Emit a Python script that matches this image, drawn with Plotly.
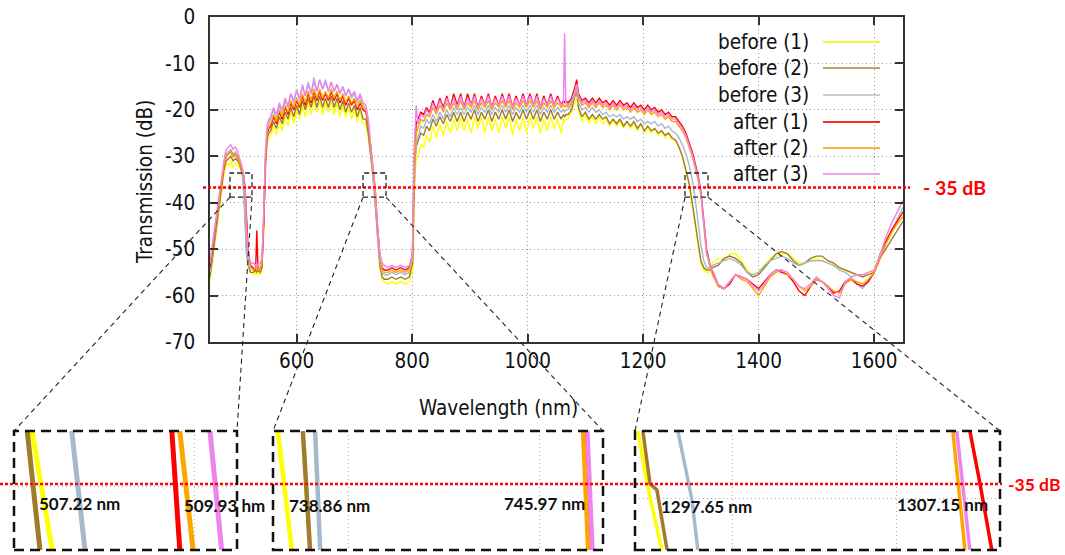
import plotly.graph_objects as go

W, H = 1065, 555

# ---------------- data ----------------
WL = [
    450, 455, 460, 465, 470, 474, 478, 482, 486, 490, 494, 498, 502, 505, 507, 509, 511, 513, 516, 520, 525, 529, 531, 533, 537, 540,
    543, 546, 549, 552, 555, 560, 565, 570, 575, 580, 585, 590, 595, 600, 605, 610, 615, 620, 625, 630, 635, 640, 645, 650,
    655, 660, 665, 670, 675, 680, 685, 690, 695, 700, 705, 710, 715, 720, 724, 728, 732, 736, 740, 744, 748, 752, 758, 765,
    772, 780, 788, 795, 799,
    801, 803, 805, 807, 810, 815, 820, 825,
    830, 836, 842, 848, 854, 860, 866, 872, 878, 884,
    890, 896, 902, 908, 914, 920, 926, 932, 938, 944,
    950, 956, 962, 968, 974, 980, 986, 992, 998, 1004,
    1010, 1016, 1022, 1028, 1034, 1040, 1046, 1052, 1058,
    1062, 1064, 1066, 1070, 1076, 1082, 1085, 1088,
    1094, 1100, 1106, 1112, 1118, 1124, 1130, 1136, 1142, 1148,
    1154, 1160, 1166, 1172, 1178, 1184, 1190, 1196, 1202, 1208,
    1214, 1220, 1226, 1232, 1238, 1244, 1250, 1256, 1262, 1268,
    1274, 1280, 1285, 1290, 1295, 1300, 1305, 1310, 1315,
    1320, 1330, 1340, 1350, 1360, 1370, 1380, 1390, 1400, 1410, 1420, 1430, 1440, 1450, 1460, 1470, 1480,
    1490, 1500, 1510, 1520, 1530, 1540, 1550, 1560, 1570, 1580, 1590, 1600, 1610, 1620, 1630, 1640, 1650,
]

BEFORE_1 = [
    -57, -52, -47, -42, -38, -34, -31.5, -32, -31, -32.5, -31.5, -32, -32.5, -33.5, -34.8, -37.5, -43, -49, -53, -55, -55.5, -55, -55.5, -55, -55.5, -54,
    -46, -33, -27, -26, -25.5, -23.5, -25.5, -22.5, -24.5, -21.5, -23.5, -20.5, -23, -20, -22, -19, -21.5, -18.5, -21, -18, -20.5, -18, -21, -18.5,
    -20.5, -18, -21, -18.5, -21.5, -19, -21.5, -19.5, -22, -20, -22.5, -20.5, -23, -23, -26, -30, -34, -40, -48, -54, -56.5, -57, -57.5, -57,
    -57.5, -57, -57.5, -57, -55,
    -55, -44, -34, -31, -30, -27.5, -28, -25.5,
    -27, -23.5, -26, -23, -25.5, -22.5, -25, -22, -24.5, -21.5,
    -24.5, -22, -25, -21.5, -24, -21.5, -25, -21.5, -24.5, -22,
    -25, -21.5, -24, -21.5, -25.5, -22, -24.5, -21.5, -25, -21.5,
    -24, -21.5, -25, -22, -24.5, -21.5, -24, -22, -25,
    -22, -22.5, -22, -22, -20.5, -18.5, -17.5, -20,
    -22.5, -21, -23, -21.5, -23, -21.5, -23, -22, -23.5, -22,
    -23.5, -22.5, -24, -22.5, -24, -23, -24.5, -23, -25, -23.5,
    -25, -24, -25.5, -24.5, -26, -25, -26.5, -26.5, -28, -30,
    -33, -36.5, -40.5, -45, -49.5, -53, -54.5, -55, -55,
    -53, -52, -52.5, -51, -51, -52.5, -54.5, -55.5, -55, -53.5, -52, -51.5, -51, -51, -52, -53, -53,
    -52.5, -52, -52.5, -53, -53.5, -54, -54.5, -55, -55.5, -55.5, -55, -54.5, -51, -48, -46, -44, -42,
]

BEFORE_2 = [
    -56, -51, -46, -41, -37, -33, -31, -30.5, -30, -31, -30.5, -31, -32, -33.5, -34.7, -38, -44, -50, -53.5, -55, -55, -54.5, -55, -54.5, -55, -54,
    -45, -32, -26, -25, -24.5, -22.5, -24, -21.5, -23, -20.5, -22, -19.5, -21.5, -19, -21, -18, -20, -17.5, -19.5, -17, -19.5, -17, -19.5, -17.5,
    -19.5, -17, -19.5, -17.5, -20, -18, -20.5, -18.5, -20.5, -19, -21.5, -19.5, -22, -22, -25, -29.5, -34, -40, -48, -53.5, -56, -56.5, -56.5, -56,
    -56.5, -56, -56.5, -56, -54,
    -53, -40, -31, -28, -27, -25, -25.5, -23.5,
    -24.5, -22, -23.5, -21.5, -23, -21, -22.5, -20.5, -22.5, -20.5,
    -22.5, -20.5, -22, -20, -22.5, -20.5, -22, -20, -22.5, -20.5,
    -22, -20, -22, -20, -22.5, -20.5, -22, -20, -22, -20,
    -22, -20, -22.5, -20.5, -22, -20, -22, -20.5, -22,
    -21, -21.5, -21, -21, -20, -17, -16, -19.5,
    -21.5, -20.5, -22, -21, -22, -21, -22, -21.5, -23, -22,
    -23, -22, -23.5, -22.5, -23.5, -22.5, -24, -23, -24.5, -23.5,
    -24.5, -24, -25, -24.5, -25.5, -25, -26, -26.5, -28, -30,
    -33, -36, -40, -44.5, -49, -52.5, -54, -54.5, -54.5,
    -54, -53.5, -52, -51.5, -52, -53, -55, -56, -55.5, -54, -52.5, -51, -50.5, -51, -52.5, -53.5, -53,
    -52, -51.5, -51.5, -52.5, -53, -54, -54.5, -55, -55.5, -56, -55.5, -55, -52, -50, -48, -46, -44,
]

BEFORE_3 = [
    -55, -50, -45, -40, -36, -32, -29.5, -29, -28.5, -29.5, -29, -30, -31.5, -33, -35, -39, -45, -51, -53.5, -54, -54.5, -54, -54.5, -54, -54, -53,
    -43, -30, -24, -23, -22, -20, -22, -19, -21, -18, -19.5, -16.5, -18.5, -15.5, -18, -14.5, -17, -14, -16.5, -13, -16, -13.5, -15.5, -13.5,
    -16, -14, -16, -14.5, -16.5, -15, -17, -15.5, -17.5, -16.5, -18.5, -17, -19, -20, -23, -28.5, -33.5, -39.5, -47, -52.5, -55, -55.5, -55.5, -55,
    -55.5, -55, -55.5, -55, -53,
    -52, -38, -30, -27, -26, -23.5, -24, -22,
    -23, -21, -22.5, -20.5, -22, -20, -21.5, -19.5, -21, -19.5,
    -21, -19.5, -20.5, -19, -21, -19.5, -20.5, -19, -21, -19.5,
    -20.5, -19, -20.5, -19, -21, -19.5, -20.5, -19, -20.5, -19,
    -20.5, -19, -21, -19.5, -20.5, -19, -20.5, -19.5, -20.5,
    -20, -20.5, -20, -20, -19, -16.5, -15.5, -18.5,
    -20, -19.5, -20.5, -19.5, -20.5, -20, -21, -20.5, -21.5, -21,
    -21.5, -21, -22, -21.5, -22, -21.5, -22.5, -22, -23, -22.5,
    -23, -22.5, -23.5, -23, -24, -23.5, -24.5, -25, -26, -27.5,
    -29.5, -32, -35, -39, -44, -49, -52.5, -54, -54,
    -53.5, -53, -52.5, -52, -52.5, -53.5, -55, -55.5, -55, -53.5, -52.5, -52, -51.5, -52, -53, -53.5, -53,
    -52.5, -52.5, -52.5, -53, -53.5, -54.5, -55, -56, -57.5, -58.5, -57, -55, -51, -48.5, -46, -43.5, -41,
]

AFTER_1 = [
    -54, -49, -44, -40, -36, -32, -30, -29.5, -29, -30, -29.5, -30.5, -31.5, -32.5, -33.5, -34.5, -37.5, -44, -50, -53.5, -54, -54.5, -46, -54, -54.5, -53,
    -44, -31, -25, -24, -23.5, -21.5, -23, -20.5, -22, -19.5, -21, -18.5, -20, -18, -19.5, -17, -19, -16.5, -18.5, -16, -18, -16, -18, -16.5,
    -18, -16, -18, -16.5, -18.5, -17, -19, -17.5, -19, -18, -20, -18.5, -20, -20.5, -23, -28, -32, -37, -45, -51, -54, -54.5, -54.5, -54,
    -54.5, -54, -54.5, -54, -52,
    -50, -34, -26, -23, -22, -20.5, -21, -19.5,
    -20.5, -18, -20, -17.5, -19.5, -17, -19.5, -16.5, -19, -16.5,
    -19.5, -16.5, -19, -16.5, -19.5, -17, -19, -16.5, -19.5, -17,
    -19, -16.5, -19, -16.5, -19.5, -17, -19, -16.5, -19, -16.5,
    -19, -16.5, -19.5, -17, -19, -16.5, -19, -17, -19,
    -18, -18.5, -18, -18.5, -17.5, -15, -13.5, -16.5,
    -18, -17.5, -18.5, -17.5, -18.5, -17.5, -18.5, -18, -19, -18,
    -19, -18, -19, -18.5, -19.5, -18.5, -19.5, -19, -20, -19,
    -20, -19.5, -20.5, -20, -21, -20.5, -21.5, -21.5, -22.5, -23.5,
    -25, -27, -29, -31.5, -34, -37.5, -44, -50, -53,
    -55, -58, -58.5, -57.5, -55.5, -56, -56.5, -57.5, -58.5, -57, -55.5, -54.5, -55, -55.5, -57, -59, -60,
    -58, -56.5, -57, -58, -59.5, -59, -57, -56.5, -57.5, -58, -57, -55, -52, -48.5, -46, -44, -42,
]

AFTER_2 = [
    -53, -48, -44, -40, -36, -32, -30, -29.5, -29, -30, -29.5, -30.5, -31.5, -32.5, -33.5, -34.7, -38, -45, -51, -54, -54.5, -54, -54.5, -54, -54.5, -53,
    -43, -30, -24.5, -23.5, -23, -21, -22.5, -20, -21.5, -19, -20.5, -18, -19.5, -17.5, -19, -16.5, -18.5, -16, -18, -15.5, -17.5, -15.5, -17.5, -16,
    -17.5, -15.5, -17.5, -16, -18, -16.5, -18.5, -17, -18.5, -17.5, -19.5, -18, -19.5, -20, -22.5, -27.5, -32, -37, -45, -51, -54.5, -55, -55, -54.5,
    -55, -54.5, -55, -54.5, -52.5,
    -51, -36, -28, -25, -24, -22, -22.5, -21,
    -21.5, -19.5, -21, -19, -20.5, -18.5, -20, -18.5, -20, -18,
    -20, -18.5, -19.5, -18, -20, -18.5, -19.5, -18, -20, -18.5,
    -19.5, -18, -19.5, -18, -20, -18.5, -19.5, -18, -19.5, -18,
    -19.5, -18, -20, -18.5, -19.5, -18, -19.5, -18.5, -19.5,
    -19, -19.5, -19, -19.5, -18.5, -16, -14.5, -17.5,
    -19, -18.5, -19.5, -18.5, -19.5, -18.5, -19.5, -19, -20, -19,
    -20, -19, -20, -19.5, -20.5, -19.5, -20.5, -20, -21, -20,
    -21, -20.5, -21.5, -21, -22, -21.5, -22.5, -22.5, -23.5, -24.5,
    -26, -28, -30, -32.5, -35, -38.5, -45.5, -51, -53.5,
    -55.5, -58, -58.5, -57, -55.5, -56.5, -57, -58.5, -60, -58, -56, -55, -54.5, -55.5, -56.5, -58, -59,
    -58, -56.5, -57, -58, -59, -59.5, -57.5, -56.5, -57, -57.5, -56.5, -55, -52, -49, -46.5, -44.5, -43,
]

AFTER_3 = [
    -53, -48, -43, -39, -35, -31, -28.5, -28, -27.5, -28.5, -28, -29, -30.5, -32, -33, -34.5, -38.5, -46, -51, -53, -53, -53.5, -53, -53.5, -53, -52,
    -42, -29, -23, -22, -21.5, -19.5, -21, -18.5, -20, -17.5, -19, -16.5, -18, -16, -17.5, -15, -17, -14.5, -16.5, -14, -16, -13.5, -15.5, -14,
    -16, -14, -16, -14.5, -16.5, -15, -17, -15.5, -17, -16, -18, -16.5, -18.5, -19, -22, -27, -33, -39, -46, -51, -53, -53.5, -54, -53.5,
    -54, -53.5, -54, -53.5, -52,
    -48, -30, -22, -19, -23, -21, -21.5, -20,
    -21, -18.5, -20.5, -18, -20, -17.5, -19.5, -17.5, -19.5, -17,
    -19.5, -17.5, -19, -17, -19.5, -17.5, -19, -17, -19.5, -17.5,
    -19, -17, -19, -17, -19.5, -17.5, -19, -17, -19, -17,
    -19, -17, -19.5, -17.5, -19, -17, -19, -17.5, -19,
    -18.5, -3.5, -18.5, -19, -18, -16, -14.5, -17,
    -18.5, -18, -19, -18, -19, -18, -19, -18.5, -19.5, -18.5,
    -19.5, -18.5, -19.5, -19, -20, -19, -20, -19.5, -20.5, -19.5,
    -20.5, -20, -21, -20.5, -21.5, -21, -22, -22, -23, -24,
    -25.5, -27.5, -29.5, -32, -34.5, -38, -45, -51, -53,
    -54.5, -57.5, -58.5, -57, -55.5, -56, -56.5, -58, -59, -57.5, -55.5, -54.5, -54.5, -55, -56.5, -58, -58.5,
    -57.5, -56, -57, -58.5, -60, -60.5, -57, -56, -55.5, -55.5, -55, -54.5, -51.5, -47.5, -44.5, -42, -39.5,
]

SERIES_NAMES = ["before (1)", "before (2)", "before (3)", "after (1)", "after (2)", "after (3)"]
SERIES_VALUES = [BEFORE_1, BEFORE_2, BEFORE_3, AFTER_1, AFTER_2, AFTER_3]

X_TICKS = [600, 800, 1000, 1200, 1400, 1600]
Y_TICKS = [0, -10, -20, -30, -40, -50, -60, -70]

# zoomed insets (wavelength nm / transmission dB at the -35 dB crossings)
INSET1_WL = [[507.05, 507.43], [506.96, 507.20], [507.80, 508.05], [509.69, 509.84], [509.84, 510.09], [510.41, 510.63]]
INSET1_DB = [[-33, -37.5], [-33, -37.5], [-33, -37.5], [-33, -37.5], [-33, -37.5], [-33, -37.5]]
INSET2_WL = [[738.71, 739.04], [739.30, 739.47], [739.59, 739.71], [745.99, 746.11], [745.92, 746.04], [746.02, 746.14]]
INSET2_DB = [[-33, -37.5], [-33, -37.5], [-33, -37.5], [-33, -37.5], [-33, -37.5], [-33, -37.5]]
INSET3_WL = [[1297.37, 1297.65, 1297.83, 1298.10], [1297.52, 1297.74, 1297.95, 1298.26],
             [1298.59, 1298.90, 1299.02, 1299.20], [1307.51, 1307.82, 1308.18],
             [1306.99, 1307.36], [1307.11, 1307.51]]
INSET3_DB = [[-33, -35, -36, -37.5], [-33, -35, -35.23, -37.5], [-33, -35, -35.6, -37.5],
             [-33, -35, -37.5], [-33, -37.5], [-33, -37.5]]
INSET_LABELS = ["507.22 nm", "509.93 hm", "738.86 nm", "745.97 nm", "1297.65 nm", "1307.15 nm"]
THRESHOLD_LABELS = ["- 35 dB", "-35 dB"]

for v in SERIES_VALUES:
    assert len(v) == len(WL), (len(v), len(WL))

# ---------------- styling / layout ----------------
COLORS = ["#ffff00", "#a07c28", "#a6bacd", "#ff0000", "#ffa500", "#ee82ee"]
LEG_COLORS = ["#f2f240", "#bfa56a", "#c3cfdb", "#f23030", "#f5b54a", "#eaa2ea"]
FONT = "DejaVu Sans Condensed, DejaVu Sans, sans-serif"
LBL_FONT = "Lato, Open Sans, sans-serif"

def px(x):
    return x / W

def py(y):
    return 1 - y / H

MAIN_XDOM = [px(210), px(903)]
MAIN_YDOM = [py(342), py(17)]
MAIN_XR = [450, 1650]
MAIN_YR = [-70, 0]
INSET_XDOM = [[px(14), px(237)], [px(273), px(603)], [px(635), px(1000)]]
INSET_YDOM = [py(550), py(431)]
INSET_XR = [[506.71, 510.92], [738.595, 746.39], [1297.28, 1308.43]]
INSET_YR = [-37.5, -33.0]
INSET_XGRID = [[510.125], [740.39, 744.90], [1300.27, 1305.28]]
INSET_YGRID = [[-35.1], [], [-35.57]]

fig = go.Figure()

for name, vals, col in zip(SERIES_NAMES, SERIES_VALUES, COLORS):
    fig.add_trace(go.Scatter(x=WL, y=vals, mode="lines", name=name,
                             line=dict(color=col, width=1.4), xaxis="x", yaxis="y",
                             showlegend=False))

inset_data = [(INSET1_WL, INSET1_DB, 5), (INSET2_WL, INSET2_DB, 4.5), (INSET3_WL, INSET3_DB, 3.5)]
for k, (wls, dbs, lw) in enumerate(inset_data):
    ax = str(k + 2)
    for name, xs, ys, col in zip(SERIES_NAMES, wls, dbs, COLORS):
        fig.add_trace(go.Scatter(x=xs, y=ys, mode="lines", name=name,
                                 line=dict(color=col, width=lw),
                                 xaxis="x" + ax, yaxis="y" + ax, showlegend=False))

axis_common = dict(showline=True, linecolor="#333333", linewidth=1.5, mirror="allticks",
                   ticks="inside", ticklen=8, tickwidth=1.5, tickcolor="#333333",
                   showgrid=True, gridcolor="#9a9a9a", griddash="1px,3px", gridwidth=1,
                   zeroline=False, automargin=False,
                   tickfont=dict(family=FONT, size=20.5, color="#111111"))

layout = dict(
    template="none",
    width=W, height=H, margin=dict(l=0, r=0, t=0, b=0, pad=0), autosize=False,
    paper_bgcolor="white", plot_bgcolor="white", showlegend=False,
    xaxis=dict(domain=MAIN_XDOM, range=MAIN_XR, anchor="y",
               tickvals=X_TICKS, ticktext=[str(t) for t in X_TICKS],
               ticklabelstandoff=0, **axis_common),
    yaxis=dict(domain=MAIN_YDOM, range=MAIN_YR, anchor="x",
               tickvals=Y_TICKS, ticktext=[str(t) for t in Y_TICKS],
               ticklabelstandoff=9, **axis_common),
)
for k in range(3):
    ax = str(k + 2)
    layout["xaxis" + ax] = dict(domain=INSET_XDOM[k], range=INSET_XR[k], anchor="y" + ax,
                                showline=False, ticks="", showticklabels=False, automargin=False,
                                tickvals=INSET_XGRID[k], showgrid=True, gridcolor="#b0b0b0",
                                griddash="1px,3px", gridwidth=1, zeroline=False)
    layout["yaxis" + ax] = dict(domain=INSET_YDOM, range=INSET_YR, anchor="x" + ax,
                                showline=False, ticks="", showticklabels=False, automargin=False,
                                tickvals=INSET_YGRID[k], showgrid=True, gridcolor="#b0b0b0",
                                griddash="1px,3px", gridwidth=1, zeroline=False)
fig.update_layout(**layout)

shapes = []
annotations = []

# -35 dB threshold lines
shapes.append(dict(type="line", xref="paper", yref="y", x0=px(203), x1=px(910), y0=-36.7, y1=-36.7,
                   line=dict(color="#ff0000", width=2.5, dash="3px,2px"), layer="above"))
shapes.append(dict(type="line", xref="paper", yref="y2", x0=0, x1=px(1002), y0=-35, y1=-35,
                   line=dict(color="#ff0000", width=2.5, dash="3px,2px"), layer="above"))
annotations.append(dict(text="<b>" + THRESHOLD_LABELS[0] + "</b>", xref="paper", yref="paper",
                        x=px(921), y=py(187), xanchor="left", yanchor="middle", showarrow=False,
                        font=dict(family=LBL_FONT, size=19.5, color="#ff0000")))
annotations.append(dict(text="<b>" + THRESHOLD_LABELS[1] + "</b>", xref="paper", yref="paper",
                        x=px(1006), y=py(484), xanchor="left", yanchor="middle", showarrow=False,
                        font=dict(family=LBL_FONT, size=17.5, color="#ff0000")))

# zoom rectangles in the main plot and connectors to the insets
ZOOM_X = [[484.6, 522.7], [715.0, 754.8], [1272.5, 1312.3]]
ZOOM_Y = [-38.8, -33.6]

def to_paper_x(v):
    return MAIN_XDOM[0] + (v - MAIN_XR[0]) / (MAIN_XR[1] - MAIN_XR[0]) * (MAIN_XDOM[1] - MAIN_XDOM[0])

def to_paper_y(v):
    return MAIN_YDOM[0] + (v - MAIN_YR[0]) / (MAIN_YR[1] - MAIN_YR[0]) * (MAIN_YDOM[1] - MAIN_YDOM[0])

for k in range(3):
    x0, x1 = ZOOM_X[k]
    shapes.append(dict(type="rect", xref="x", yref="y", x0=x0, x1=x1, y0=ZOOM_Y[0], y1=ZOOM_Y[1],
                       line=dict(color="#222222", width=1.3, dash="5px,3px"), layer="above"))
    yb = to_paper_y(ZOOM_Y[0])
    for xv, xi in ((x0, INSET_XDOM[k][0]), (x1, INSET_XDOM[k][1])):
        shapes.append(dict(type="line", xref="paper", yref="paper", x0=to_paper_x(xv), y0=yb,
                           x1=xi, y1=INSET_YDOM[1],
                           line=dict(color="#222222", width=1.1, dash="5px,4px"), layer="above"))
    shapes.append(dict(type="rect", xref="paper", yref="paper",
                       x0=INSET_XDOM[k][0], x1=INSET_XDOM[k][1], y0=INSET_YDOM[0], y1=INSET_YDOM[1],
                       line=dict(color="#111111", width=2.5, dash="10px,6px"), layer="above"))

# inset value labels
LABEL_POS = [(37, 503), (182, 505), (287, 505), (502, 503), (659, 506), (895, 504)]
for txt, (lx, ly) in zip(INSET_LABELS, LABEL_POS):
    annotations.append(dict(text="<b>" + txt + "</b>", xref="paper", yref="paper",
                            x=px(lx), y=py(ly), xanchor="left", yanchor="middle", showarrow=False,
                            font=dict(family=LBL_FONT, size=17, color="#111111")))

# legend (text left of line sample, gnuplot style)
LEG_Y = [42, 68, 95, 122, 148, 174]
for name, col, ly in zip(SERIES_NAMES, LEG_COLORS, LEG_Y):
    annotations.append(dict(text=name, xref="paper", yref="paper", x=px(811), y=py(ly),
                            xanchor="right", yanchor="middle", showarrow=False,
                            font=dict(family=FONT, size=20.5, color="#111111")))
    shapes.append(dict(type="line", xref="paper", yref="paper", x0=px(823), x1=px(880),
                       y0=py(ly), y1=py(ly), line=dict(color=col, width=2), layer="above"))

# axis titles
annotations.append(dict(text="Transmission (dB)", xref="paper", yref="paper", x=px(145), y=py(182),
                        textangle=-90, xanchor="center", yanchor="middle", showarrow=False,
                        font=dict(family=FONT, size=20.5, color="#111111")))
annotations.append(dict(text="Wavelength (nm)", xref="paper", yref="paper", x=px(498), y=py(408),
                        xanchor="center", yanchor="middle", showarrow=False,
                        font=dict(family=FONT, size=20.5, color="#111111")))

fig.update_layout(shapes=shapes, annotations=annotations)
fig.write_html("out.html")
